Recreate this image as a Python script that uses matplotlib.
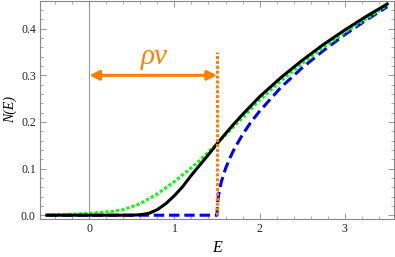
import numpy as np
import matplotlib
matplotlib.use("Agg")
import matplotlib.pyplot as plt
from matplotlib.ticker import MultipleLocator

# Data
E_black = [-0.5, 0.0, 0.5, 0.6, 0.7, 0.8, 0.9, 1.0, 1.1, 1.2, 1.3, 1.4, 1.5,
           1.6, 1.7, 1.8, 1.9, 2.0, 2.25, 2.5, 2.75, 3.0, 3.25, 3.5]
N_black = [0.0, 0.0, 0.0, 0.001, 0.004, 0.012, 0.025, 0.042, 0.062, 0.086, 0.108,
           0.130, 0.153, 0.175, 0.196, 0.216, 0.235, 0.254, 0.295, 0.332, 0.366,
           0.397, 0.426, 0.453]

E_green = [-0.5, -0.25, 0.0, 0.25, 0.4, 0.6, 0.8, 1.0, 1.1, 1.2, 1.3, 1.4, 1.5,
           1.6, 1.7, 1.8, 1.9, 2.0, 2.25, 2.5, 2.75, 3.0, 3.25, 3.5]
N_green = [0.0, 0.002, 0.004, 0.008, 0.012, 0.025, 0.046, 0.072, 0.087, 0.102, 0.118,
           0.136, 0.154, 0.172, 0.191, 0.209, 0.228, 0.247, 0.288, 0.325, 0.360,
           0.392, 0.421, 0.450]

E_blue = [-0.5, 1.5, 1.505, 1.51, 1.52, 1.55, 1.6, 1.65, 1.7, 1.8, 1.9, 2.0,
          2.25, 2.5, 2.75, 3.0, 3.25, 3.5]
N_blue = [0.0, 0.0, 0.022, 0.032, 0.045, 0.071, 0.100, 0.122, 0.141, 0.173, 0.200,
          0.223, 0.274, 0.316, 0.353, 0.387, 0.418, 0.447]

gap_E = 1.5        # position of the orange marker line
gap_top = 0.35
arrow_y = 0.30
label_text = "ρν"
xlabel = "E"
ylabel = "N(E)"

SERIF = ["Liberation Serif", "DejaVu Serif"]

fig = plt.figure(figsize=(3.95, 2.57), dpi=100)
ax = fig.add_axes([40/395, 38.3/257, 354/395, 218.2/257])

ax.axvline(0, color="#999999", lw=0.8, zorder=1)

ax.plot(E_blue, N_blue, color=(0, 0, 1), lw=2.2, dashes=(3.4, 1.6), zorder=3)
ax.plot(E_green, N_green, color=(0, 1, 0), lw=2.2, dashes=(1.0, 0.75), zorder=3)
ax.plot(E_black, N_black, color="black", lw=2.2, zorder=4)

ax.plot([gap_E, gap_E], [0, gap_top], color=(1, 0.5, 0), lw=2.2,
        dashes=(1.0, 0.6), zorder=5)
ax.annotate("", xy=(0, arrow_y), xytext=(gap_E, arrow_y),
            arrowprops=dict(arrowstyle="<|-|>", color=(1, 0.5, 0), lw=2.2,
                            mutation_scale=14, shrinkA=0, shrinkB=0), zorder=5)
ax.text(0.76, 0.34, label_text, color=(1, 0.5, 0), fontsize=21,
        family=SERIF, style="italic", ha="center", va="center")

ax.set_xlim(-0.58, 3.58)
ax.set_ylim(-0.0075, 0.4605)

ax.xaxis.set_major_locator(MultipleLocator(1))
ax.xaxis.set_minor_locator(MultipleLocator(0.2))
ax.yaxis.set_major_locator(MultipleLocator(0.1))
ax.yaxis.set_minor_locator(MultipleLocator(0.02))
ax.tick_params(which="both", direction="in", top=True, right=True,
               color="#888888", labelsize=8.5, pad=3)
ax.tick_params(which="major", length=4, width=0.6)
ax.tick_params(which="minor", length=2, width=0.5)
ax.set_xticks([0, 1, 2, 3])
ax.set_xticklabels(["0", "1", "2", "3"])
ax.set_yticks([0.0, 0.1, 0.2, 0.3, 0.4])
ax.set_yticklabels(["0.0", "0.1", "0.2", "0.3", "0.4"])
for lab in ax.get_xticklabels() + ax.get_yticklabels():
    lab.set_family(SERIF)
    lab.set_color("#222222")
for s in ax.spines.values():
    s.set_color("#888888")
    s.set_linewidth(0.8)

ax.set_xlabel(xlabel, family=SERIF, style="italic", fontsize=11.5, labelpad=3.5)
ax.set_ylabel(ylabel, family=SERIF, style="italic", fontsize=10, labelpad=3)

fig.savefig("out.png", dpi=100)
